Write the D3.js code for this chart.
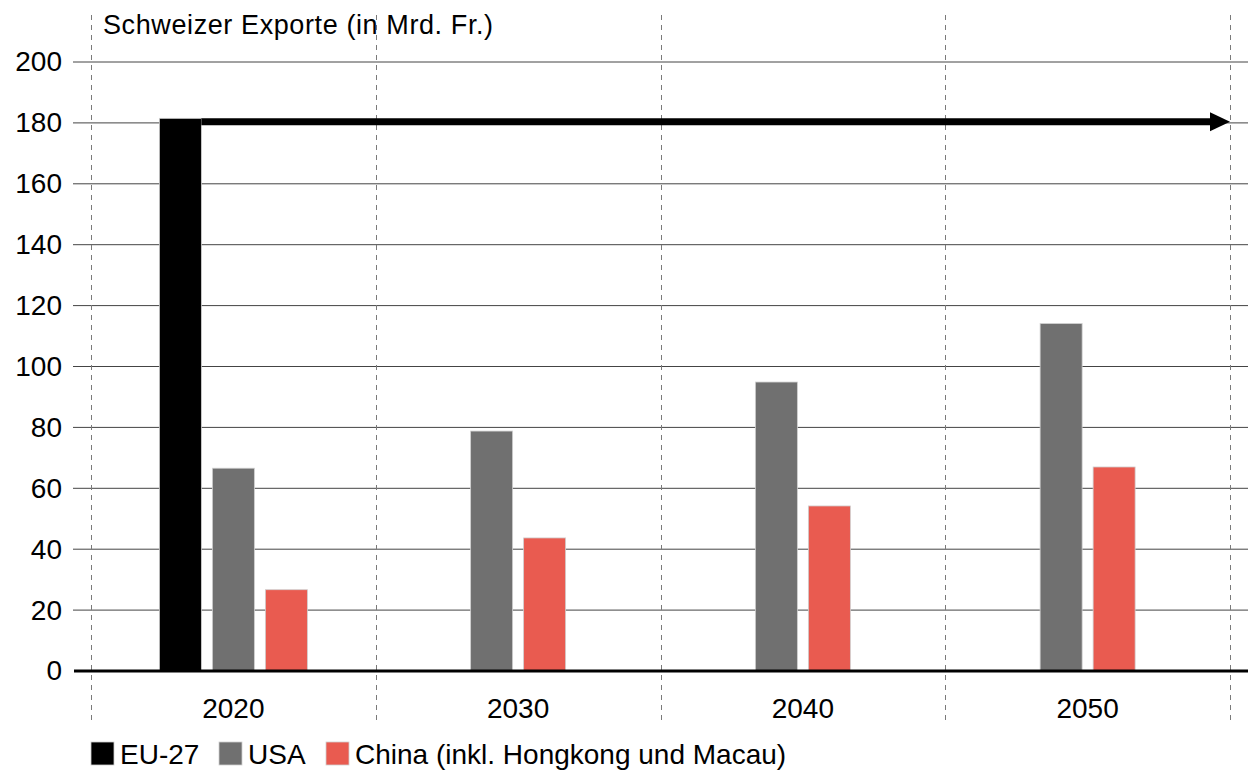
<!DOCTYPE html>
<html>
<head>
<meta charset="utf-8">
<script src="https://cdn.jsdelivr.net/npm/d3@7"></script>
<style>
  html, body { margin: 0; padding: 0; background: #fff; }
  svg { display: block; font-family: "Liberation Sans", Arial, sans-serif; }
</style>
</head>
<body>
<svg id="chart" width="1248" height="773"></svg>
<script>
// Swiss exports by partner region, in billions of francs
const years = ["2020", "2030", "2040", "2050"];
const seriesNames = ["EU-27", "USA", "China (inkl. Hongkong und Macau)"];
const seriesColors = ["#000000", "#707070", "#e95b50"];
const euValues = [181.5, null, null, null];
const usaValues = [66.6, 78.8, 94.9, 114.1];
const chinaValues = [26.7, 43.7, 54.2, 67.0];
const yTicks = [0, 20, 40, 60, 80, 100, 120, 140, 160, 180, 200];
const titleText = "Schweizer Exporte (in Mrd. Fr.)";

const seriesValues = [euValues, usaValues, chinaValues];

const svg = d3.select("#chart");
const plot = { left: 91, right: 1230, top: 62, bottom: 671 };

const x = d3.scaleBand().domain(years).range([plot.left, plot.right]).padding(0);
const y = d3.scaleLinear().domain([0, 200]).range([plot.bottom, plot.top]);

const barW = 42, barGap = 11;

// horizontal gridlines
svg.append("g")
  .selectAll("line")
  .data(yTicks.filter(d => d > 0))
  .join("line")
  .attr("x1", 73).attr("x2", 1248)
  .attr("y1", d => y(d)).attr("y2", d => y(d))
  .attr("stroke", "#444").attr("stroke-width", 1);

// dashed separators between years
const seps = years.map(d => x(d)).concat([x(years[years.length - 1]) + x.bandwidth()]);
svg.append("g")
  .selectAll("line")
  .data(seps)
  .join("line")
  .attr("x1", d => Math.round(d) + 0.5).attr("x2", d => Math.round(d) + 0.5)
  .attr("y1", 15).attr("y2", 720)
  .attr("stroke", "#7a7a7a").attr("stroke-width", 1)
  .attr("stroke-dasharray", "5,5");

// y-axis labels
const yAxis = d3.axisLeft(y).tickValues(yTicks).tickSize(0).tickPadding(0);
svg.append("g")
  .attr("transform", "translate(62,0)")
  .call(yAxis)
  .call(g => g.select(".domain").remove())
  .call(g => g.selectAll("text")
    .attr("font-size", 28)
    .attr("font-family", "Liberation Sans, Arial, sans-serif")
    .attr("fill", "#000"));

// bars: each year's present series are centred within its band
const barData = [];
years.forEach((yr, i) => {
  const present = seriesValues
    .map((vals, s) => ({ s, v: vals[i] }))
    .filter(d => d.v != null);
  const groupW = present.length * barW + (present.length - 1) * barGap;
  const start = x(yr) + x.bandwidth() / 2 - groupW / 2;
  present.forEach((d, k) => {
    barData.push({ year: yr, s: d.s, v: d.v, x0: start + k * (barW + barGap) });
  });
});

svg.append("g")
  .selectAll("rect")
  .data(barData)
  .join("rect")
  .attr("x", d => d.x0)
  .attr("y", d => y(d.v))
  .attr("width", barW)
  .attr("height", d => y(0) - y(d.v))
  .attr("fill", d => seriesColors[d.s])
  .attr("stroke", "#d0d0d0")
  .attr("stroke-width", 0.8);

// baseline
svg.append("line")
  .attr("x1", 74).attr("x2", 1248)
  .attr("y1", y(0)).attr("y2", y(0))
  .attr("stroke", "#000").attr("stroke-width", 3);

// arrow carrying the EU-27 level forward
const eu = barData.find(d => d.s === 0);
const arrowY = y(eu.v) + 3.5;
const arrowEnd = plot.right;
svg.append("line")
  .attr("x1", eu.x0 + barW).attr("x2", arrowEnd - 18)
  .attr("y1", arrowY).attr("y2", arrowY)
  .attr("stroke", "#000").attr("stroke-width", 7);
svg.append("path")
  .attr("d", `M${arrowEnd - 20},${arrowY - 9.5} L${arrowEnd},${arrowY} L${arrowEnd - 20},${arrowY + 9.5} Z`)
  .attr("fill", "#000");

// year labels
svg.append("g")
  .selectAll("text")
  .data(years)
  .join("text")
  .attr("x", d => x(d) + x.bandwidth() / 2)
  .attr("y", 718)
  .attr("text-anchor", "middle")
  .attr("font-size", 28)
  .attr("fill", "#000")
  .text(d => d);

// title
svg.append("text")
  .attr("x", 103).attr("y", 34)
  .attr("font-size", 27)
  .attr("letter-spacing", 0.6)
  .attr("fill", "#000")
  .text(titleText);

// legend
const legendX = [91, 219, 326];
const legend = svg.append("g");
seriesNames.forEach((name, i) => {
  legend.append("rect")
    .attr("x", legendX[i]).attr("y", 742)
    .attr("width", 23).attr("height", 23)
    .attr("fill", seriesColors[i])
    .attr("stroke", "#d0d0d0").attr("stroke-width", 0.8);
  legend.append("text")
    .attr("x", legendX[i] + 29).attr("y", 764)
    .attr("font-size", 28)
    .attr("fill", "#000")
    .text(name);
});
</script>
</body>
</html>
